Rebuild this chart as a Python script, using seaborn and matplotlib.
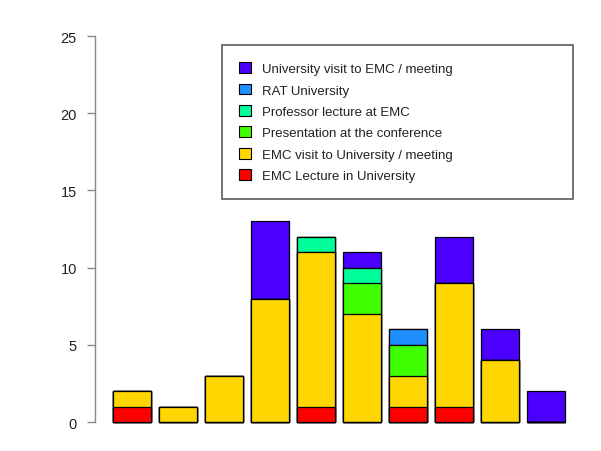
import matplotlib
matplotlib.use("Agg")
import matplotlib.pyplot as plt
import numpy as np
import pandas as pd
import seaborn as sns
from matplotlib.patches import Patch

# Stack order from the bottom up
CATEGORIES = [
    "EMC Lecture in University",
    "EMC visit to University / meeting",
    "Presentation at the conference",
    "Professor lecture at EMC",
    "RAT University",
    "University visit to EMC / meeting",
]
COLORS = ["#FF0000", "#FFD700", "#40FF00", "#00FF9A", "#1E8FFF", "#4B00FF"]

BARS = [str(i) for i in range(1, 11)]
lecture_univ = [1, 0, 0, 0, 1, 0, 1, 1, 0, 0]
emc_visit = [1, 1, 3, 8, 10, 7, 2, 8, 4, 0]
presentation = [0, 0, 0, 0, 0, 2, 2, 0, 0, 0]
prof_lecture = [0, 0, 0, 0, 1, 1, 0, 0, 0, 0]
rat_univ = [0, 0, 0, 0, 0, 0, 1, 0, 0, 0]
univ_visit = [0, 0, 0, 5, 0, 1, 0, 3, 2, 2]

SERIES = [lecture_univ, emc_visit, presentation, prof_lecture, rat_univ, univ_visit]
YTICKS = [0, 5, 10, 15, 20, 25]

sns.set_theme(style="white")
plt.rcParams["font.family"] = ["Liberation Sans Narrow", "Liberation Sans", "DejaVu Sans"]

fig = plt.figure(figsize=(6.01, 4.52), dpi=100)
ax = fig.add_axes([0.158, 0.030, 0.812, 0.922])

# cumulative stacks, drawn from the tallest down so lower segments sit on top
cum = np.cumsum(np.array(SERIES), axis=0)
for level in range(len(SERIES) - 1, -1, -1):
    df = pd.DataFrame({"bar": BARS, "value": cum[level]})
    sns.barplot(data=df, x="bar", y="value", order=BARS, color=COLORS[level],
                saturation=1, width=0.83, edgecolor="black", linewidth=0.9, ax=ax)

ax.set_xlim(-0.81, 9.81)
ax.set_ylim(-1, 26)
ax.set_xlabel("")
ax.set_ylabel("")
ax.set_xticks([])
ax.set_yticks(YTICKS)
ax.set_yticklabels([str(t) for t in YTICKS], fontsize=10.5, color="#222222")
ax.tick_params(axis="y", left=True, length=6, width=1, color="#888888", pad=7)
for side in ["top", "right", "bottom"]:
    ax.spines[side].set_visible(False)
ax.spines["left"].set_bounds(0, 25)
ax.spines["left"].set_color("#888888")
ax.spines["left"].set_linewidth(1)

handles = [Patch(facecolor=c, edgecolor="black", linewidth=0.8)
           for c in COLORS[::-1]]
leg = ax.legend(handles, CATEGORIES[::-1], loc="upper left",
                bbox_to_anchor=(0.261, 0.941, 0.719, 0.0), mode="expand",
                fontsize=9.5, frameon=True, fancybox=False, edgecolor="#333333",
                handlelength=0.9, handleheight=0.9, handletextpad=0.8,
                labelspacing=0.64, borderpad=1.27, borderaxespad=0)
leg.get_frame().set_linewidth(1.2)
for t in leg.get_texts():
    t.set_color("#222222")

fig.savefig("out.png", dpi=100)
